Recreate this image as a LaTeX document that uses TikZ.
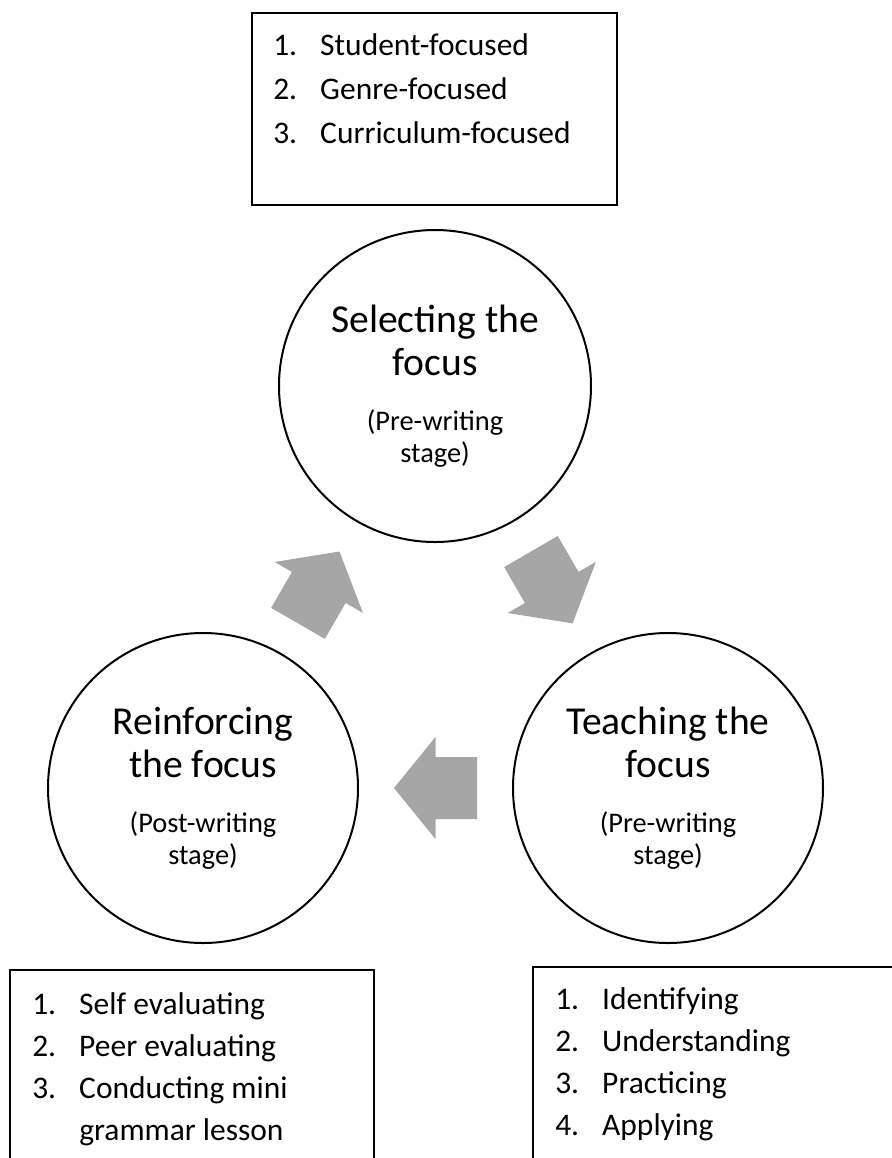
\documentclass[tikz,border=0pt]{standalone}
\usepackage{fontspec}
\setmainfont{Carlito}
\usetikzlibrary{positioning}

\definecolor{arrowgray}{HTML}{A6A6A6}
\newcommand{\titlefont}{\fontsize{29.7pt}{32.25pt}\selectfont}
\newcommand{\stagefont}{\fontsize{21.3pt}{24pt}\selectfont}
\newcommand{\listfont}{\fontsize{23.6pt}{33pt}\selectfont}
\newcommand{\lowlistfont}{\fontsize{23.6pt}{31.5pt}\selectfont}
\newcommand{\itemno}[1]{\makebox[35.25pt][l]{#1}}

\begin{document}
\begin{tikzpicture}[x=0.75pt, y=-0.75pt,
    stage/.style={circle, draw, line width=1.5pt, inner sep=0pt, align=center, font=\titlefont},
    listframe/.style={draw, line width=1.1pt},
    items/.style={anchor=base west, align=left, inner sep=0pt, font=\listfont},
    cyclearrow/.pic={\fill[arrowgray] (-41.5,-31) -- (0,-31) -- (0,-51) -- (41.5,0) -- (0,51) -- (0,31) -- (-41.5,31) -- cycle;}]
    \useasboundingbox (0,0) rectangle (892,1158);

    %% the three stages
    \node[stage, minimum size=234pt] (select) at (435,386) {Selecting the\\focus\\[9pt]{\stagefont (Pre-writing}\\[-8.25pt]{\stagefont stage)}};
    \node[stage, minimum size=232.5pt] (reinforce) at (203,788) {Reinforcing\\the focus\\[9pt]{\stagefont (Post-writing}\\[-8.25pt]{\stagefont stage)}};
    \node[stage, minimum size=232.5pt] (teach) at (668,788) {Teaching the\\focus\\[9pt]{\stagefont (Pre-writing}\\[-8.25pt]{\stagefont stage)}};

    %% cycle arrows
    \path (reinforce) -- pic[sloped, allow upside down]{cyclearrow} (select);
    \path (select) -- pic[sloped, allow upside down]{cyclearrow} (teach);
    \path (teach) -- pic[sloped, allow upside down]{cyclearrow} (reinforce);

    %% lists (base = last line)
    \draw[listframe] (252,13) rectangle (617,205);
    \node[items] (focuslist) at (273,143) {\itemno{1.}Student-focused\\\itemno{2.}Genre-focused\\\itemno{3.}Curriculum-focused};

    \draw[listframe] (10,1170) |- (374,970) -- (374,1170);
    \node[items, font=\lowlistfont] (reinforcelist) at (32,1140) {\itemno{1.}Self evaluating\\\itemno{2.}Peer evaluating\\\itemno{3.}Conducting mini\\\itemno{}grammar lesson};

    \draw[listframe] (533,1170) |- (900,967);
    \node[items, font=\lowlistfont] (teachlist) at (555,1135) {\itemno{1.}Identifying\\\itemno{2.}Understanding\\\itemno{3.}Practicing\\\itemno{4.}Applying};
\end{tikzpicture}
\end{document}
